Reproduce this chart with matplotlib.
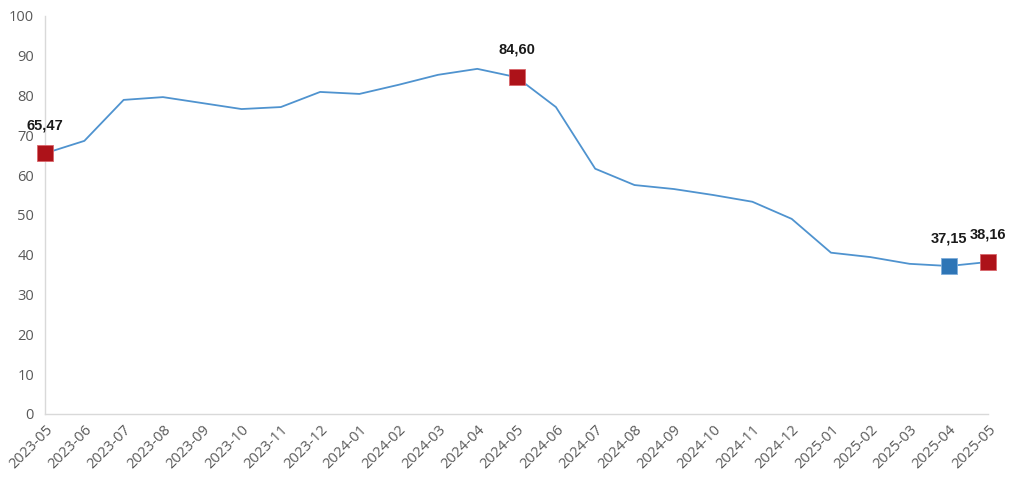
import numpy as np
import matplotlib
matplotlib.use('Agg')
from matplotlib import pyplot as plt

# monthly values
months = ['2023-05', '2023-06', '2023-07', '2023-08', '2023-09', '2023-10', '2023-11',
          '2023-12', '2024-01', '2024-02', '2024-03', '2024-04', '2024-05', '2024-06',
          '2024-07', '2024-08', '2024-09', '2024-10', '2024-11', '2024-12', '2025-01',
          '2025-02', '2025-03', '2025-04', '2025-05']
values = [65.47, 68.6, 78.9, 79.6, 78.1, 76.6, 77.1, 80.9, 80.4, 82.7, 85.2, 86.7,
          84.60, 77.1, 61.6, 57.5, 56.5, 55.0, 53.3, 49.0, 40.5, 39.4, 37.7, 37.15, 38.16]

red_months = ['2023-05', '2024-05', '2025-05']
blue_months = ['2025-04']
labels = {'2023-05': '65,47', '2024-05': '84,60', '2025-04': '37,15', '2025-05': '38,16'}

x = np.arange(len(months))

fig = plt.figure(figsize=(10.24, 4.98), dpi=100)
ax = fig.add_axes([0.044, 0.169, 0.921, 0.799])

ax.plot(x, values, color='#4F93CF', linewidth=1.3, zorder=2)

for m in red_months:
    i = months.index(m)
    ax.plot(x[i], values[i], marker='s', markersize=11.5, color='#AD1219',
            markeredgecolor='#D9666B', markeredgewidth=0.6, zorder=3, clip_on=False)
for m in blue_months:
    i = months.index(m)
    ax.plot(x[i], values[i], marker='s', markersize=11.5, color='#2E75B6',
            markeredgecolor='#7FAEDB', markeredgewidth=0.6, zorder=3, clip_on=False)

for m, t in labels.items():
    i = months.index(m)
    ax.annotate(t, (x[i], values[i]), xytext=(0, 15), textcoords='offset points',
                ha='center', va='bottom', fontsize=10.5, fontweight='bold',
                family='Liberation Sans', color='#1a1a1a')

ax.set_xlim(0, len(months) - 1)
ax.set_ylim(0, 100)
ax.set_yticks(np.arange(0, 101, 10))
ax.set_xticks(x)
ax.set_xticklabels(months, rotation=45, ha='right', rotation_mode='anchor')

for lab in ax.get_xticklabels() + ax.get_yticklabels():
    lab.set_family('Open Sans')
    lab.set_fontsize(10.5)
    lab.set_color('#595959')

ax.tick_params(length=0, pad=8)
ax.tick_params(axis='x', pad=6)
for s in ['top', 'right']:
    ax.spines[s].set_visible(False)
for s in ['left', 'bottom']:
    ax.spines[s].set_color('#D9D9D9')
    ax.spines[s].set_linewidth(1)

plt.savefig('out.png', dpi=100)
plt.close()
